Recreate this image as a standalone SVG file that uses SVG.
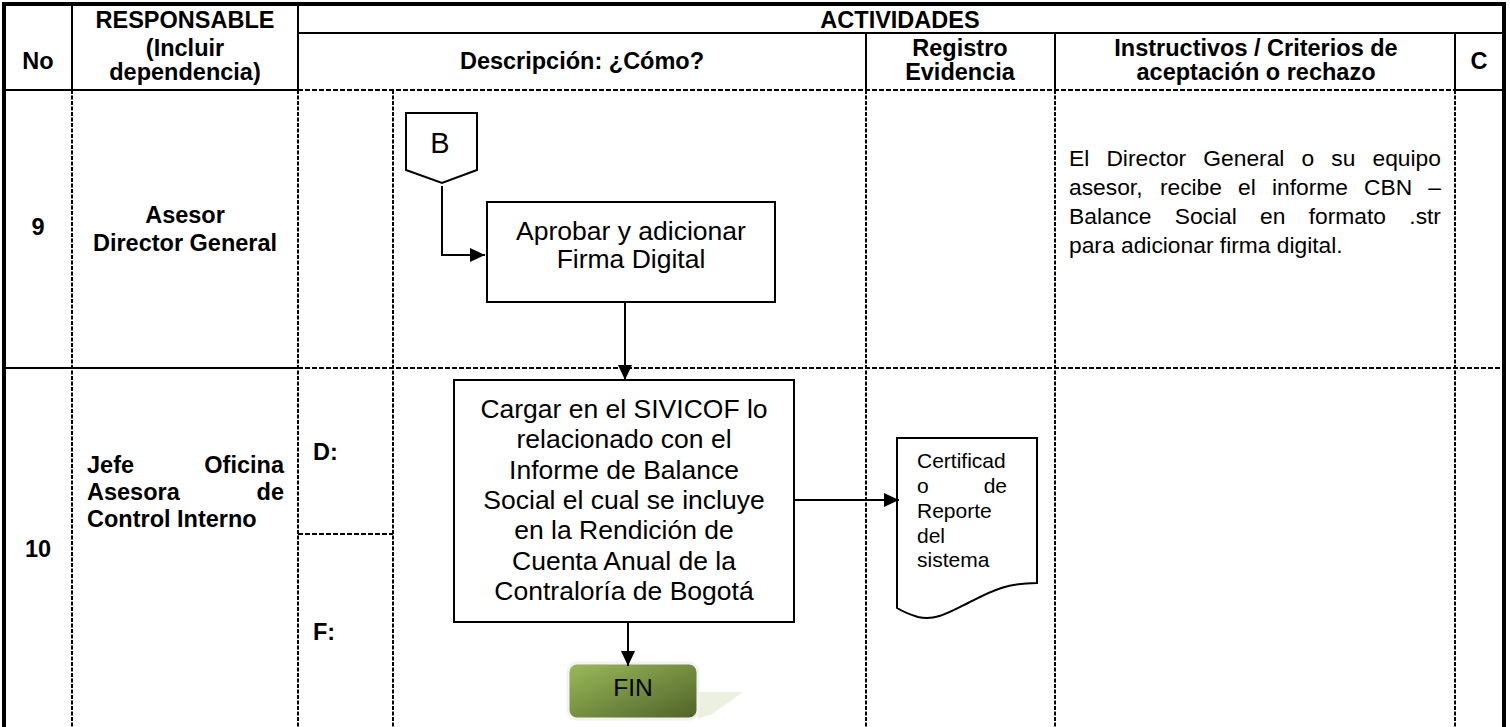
<svg xmlns="http://www.w3.org/2000/svg" width="1510" height="727" viewBox="0 0 1510 727">
<defs>
<style>
text{font-family:"Liberation Sans",Arial,Helvetica,sans-serif;fill:#000}
.h{font-weight:bold;font-size:23.5px}
.m{text-anchor:middle}
.e{text-anchor:end}
.box{font-size:26.5px}
.par{font-size:22.8px}
.doc{font-size:21px}
.solid{stroke:#000;stroke-width:2;fill:none}
.thick{stroke:#000;stroke-width:4;fill:none}
.dh{stroke:#000;stroke-width:2;stroke-dasharray:5 2;fill:none}
.dv{stroke:#000;stroke-width:2;stroke-dasharray:4 1.5;fill:none}
.shape{fill:#fff;stroke:#000;stroke-width:2}
.conn{stroke:#000;stroke-width:2;fill:none;marker-end:url(#arr)}
</style>
<marker id="arr" markerUnits="userSpaceOnUse" markerWidth="15" markerHeight="14" refX="15" refY="7" orient="auto"><path d="M0,0 L15,7 L0,14 z" fill="#000"/></marker>
<linearGradient id="fing" x1="0" y1="0" x2="1" y2="1"><stop offset="0" stop-color="#9BBB59"/><stop offset="1" stop-color="#4F6228"/></linearGradient>
</defs>
<rect width="1510" height="727" fill="#fff"/>
<g id="table">
<path class="thick" d="M4,727 V4 H1504 V727"/>
<path class="solid" d="M298,33 H1504 M72,4 V90 M298,4 V90 M866,33 V90 M1055,33 V90 M1455,33 V90 M4,90 H298 M1455,90 H1504 M4,368 H298"/>
<path class="dh" d="M298,90 H1455 M298,368 H1504 M298,534 H393"/>
<path class="dv" d="M72,90 V727 M298,90 V727 M393,90 V727 M866,90 V727 M1055,90 V727 M1455,90 V727"/>
</g>
<g id="header">
<text class="h m" x="38" y="69">No</text>
<text class="h m" x="185" y="28">RESPONSABLE</text>
<text class="h m" x="185" y="56">(Incluir</text>
<text class="h m" x="185" y="80">dependencia)</text>
<text class="h m" x="900" y="28">ACTIVIDADES</text>
<text class="h m" x="582" y="69">Descripción: ¿Cómo?</text>
<text class="h m" x="960" y="56">Registro</text>
<text class="h m" x="960" y="80">Evidencia</text>
<text class="h m" x="1256" y="56">Instructivos / Criterios de</text>
<text class="h m" x="1256" y="80">aceptación o rechazo</text>
<text class="h m" x="1479" y="69">C</text>
</g>
<g id="row9">
<text class="h m" x="38" y="235">9</text>
<text class="h m" x="185" y="223">Asesor</text>
<text class="h m" x="185" y="251">Director General</text>
<text class="par"><tspan x="1069" y="166">El</tspan><tspan x="1106.4">Director</tspan><tspan x="1203.3">General</tspan><tspan x="1301.5">o</tspan><tspan x="1331.3">su</tspan><tspan x="1372.5">equipo</tspan></text>
<text class="par"><tspan x="1069" y="195">asesor,</tspan><tspan x="1159.9">recibe</tspan><tspan x="1238.1">el</tspan><tspan x="1272">informe</tspan><tspan x="1364.1">CBN</tspan><tspan x="1428.3">–</tspan></text>
<text class="par"><tspan x="1069" y="224">Balance</tspan><tspan x="1174.7">Social</tspan><tspan x="1260.1">en</tspan><tspan x="1308.7">formato</tspan><tspan x="1409.3">.str</tspan></text>
<text class="par" x="1069" y="253">para adicionar firma digital.</text>
</g>
<g id="row10">
<text class="h m" x="38" y="557">10</text>
<text class="h" x="87" y="473">Jefe</text>
<text class="h e" x="284" y="473">Oficina</text>
<text class="h" x="87" y="500">Asesora</text>
<text class="h e" x="284" y="500">de</text>
<text class="h" x="87" y="527">Control Interno</text>
<text class="h" x="313" y="460">D:</text>
<text class="h" x="313" y="640">F:</text>
</g>
<g id="node-B">
<polygon class="shape" stroke-width="1.5" points="406,113 477,113 477,170 442,183 406,170"/>
<text class="m" x="440" y="153" font-size="29">B</text>
</g>
<g id="node-aprobar">
<rect class="shape" x="487" y="202" width="288" height="100"/>
<text class="box m" x="631" y="240">Aprobar y adicionar</text>
<text class="box m" x="631" y="268">Firma Digital</text>
</g>
<g id="node-cargar">
<rect class="shape" x="454" y="380" width="340" height="242"/>
<text class="box m"><tspan x="624" y="418">Cargar en el SIVICOF lo</tspan><tspan x="624" y="448.3">relacionado con el</tspan><tspan x="624" y="478.6">Informe de Balance</tspan><tspan x="624" y="509">Social el cual se incluye</tspan><tspan x="624" y="539">en la Rendición de</tspan><tspan x="624" y="569.5">Cuenta Anual de la</tspan><tspan x="624" y="600">Contraloría de Bogotá</tspan></text>
</g>
<g id="node-doc">
<path class="shape" d="M897,438 H1037 V583 C1005,583 990,592 968,603 C948,613 935,621 918,617 C908,614 902,611 897,608 Z"/>
<text class="doc" x="917" y="468">Certificad</text>
<text class="doc" x="917" y="493">o</text>
<text class="doc e" x="1007" y="493">de</text>
<text class="doc" x="917" y="518">Reporte</text>
<text class="doc" x="917" y="543">del</text>
<text class="doc" x="917" y="567">sistema</text>
</g>
<g id="node-fin">
<polygon points="698,692 743,692 712,714 698,719" fill="#EBF1DE"/>
<rect x="568" y="663" width="130" height="56" rx="9" fill="url(#fing)" stroke="#F2F2F2" stroke-width="3"/>
<text class="m" x="633" y="696" font-size="24.5">FIN</text>
</g>
<g id="connectors">
<path class="conn" d="M442,186 V255 H485"/>
<path class="conn" d="M625,302 V380"/>
<path class="conn" d="M794,500 H899"/>
<path class="conn" d="M628,622 V666"/>
</g>
</svg>
